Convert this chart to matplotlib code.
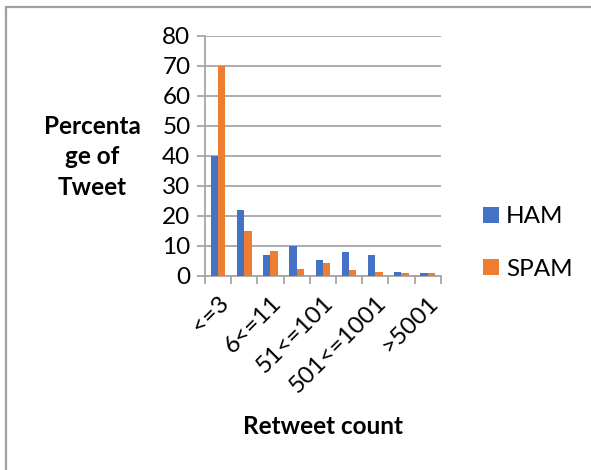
import matplotlib
matplotlib.use("Agg")
import matplotlib.pyplot as plt
import numpy as np
from matplotlib.patches import Rectangle

# Retweet-count bins (only every other label is printed on the axis)
categories = ["<=3", "4<=5", "6<=11", "12<=50", "51<=101",
              "102<=500", "501<=1001", "1002<=5000", ">5001"]
ham = [40, 22, 7, 10, 5.2, 8, 7, 1.1, 0.8]
spam = [70, 15, 8.1, 2.1, 4.1, 2, 1.1, 0.8, 0.8]
yticks = [0, 10, 20, 30, 40, 50, 60, 70, 80]

HAM_COLOR = "#4472C4"
SPAM_COLOR = "#ED7D31"
GRID = "#A6A6A6"

plt.rcParams["font.family"] = ["Lato", "DejaVu Sans"]

W, H = 591, 470
fig = plt.figure(figsize=(W / 100, H / 100), dpi=100)

# outer frame of the chart area
fig.patches.append(Rectangle((5.5 / W, -0.1), 2, (H - 7) / H + 0.1,
                             transform=fig.transFigure, fill=False,
                             edgecolor="#A0A0A0", linewidth=1.6))

ax = fig.add_axes([205 / W, 1 - 275.7 / H, (440.7 - 205) / W, (275.7 - 35.7) / H])

x = np.arange(len(categories))
bw = 0.28
ax.bar(x - bw / 2, ham, bw, color=HAM_COLOR, label="HAM", zorder=3)
ax.bar(x + bw / 2, spam, bw, color=SPAM_COLOR, label="SPAM", zorder=3)

ax.set_xlim(-0.5, len(categories) - 0.5)
ax.set_ylim(0, 80)
ax.set_yticks(yticks)
ax.yaxis.grid(True, color=GRID, linewidth=1.3, zorder=0)
ax.set_axisbelow(True)

for side in ["top", "right"]:
    ax.spines[side].set_visible(False)
ax.spines["left"].set_color(GRID)
ax.spines["left"].set_linewidth(1.3)
ax.spines["bottom"].set_color(GRID)
ax.spines["bottom"].set_linewidth(1.3)

ax.tick_params(axis="y", length=5.5, width=1.3, color=GRID, labelsize=17.5, pad=5)

# category boundary ticks on x, labels at group centres
ax.set_xticks(np.arange(-0.5, len(categories)), minor=True)
ax.tick_params(axis="x", which="minor", length=6, width=1.3, color=GRID)
ax.set_xticks(x)
ax.set_xticklabels([c if i % 2 == 0 else "" for i, c in enumerate(categories)],
                   rotation=45, ha="right", va="top", rotation_mode="anchor",
                   fontsize=17.5)
ax.tick_params(axis="x", which="major", length=0, pad=12)

fig.text(92 / W, 1 - 157 / H, "Percenta\nge of\nTweet", ha="center", va="center",
         fontsize=17.5, fontweight="bold", linespacing=1.38)
fig.text(323 / W, 1 - 427 / H, "Retweet count", ha="center", va="center",
         fontsize=17.5, fontweight="bold")

ax.legend(loc="center left", bbox_to_anchor=(461 / W, 1 - 243 / H),
          bbox_transform=fig.transFigure, frameon=False, fontsize=17.5,
          handlelength=0.65, handleheight=0.65, handletextpad=0.3,
          labelspacing=1.3)

fig.savefig("out.png", dpi=100)
